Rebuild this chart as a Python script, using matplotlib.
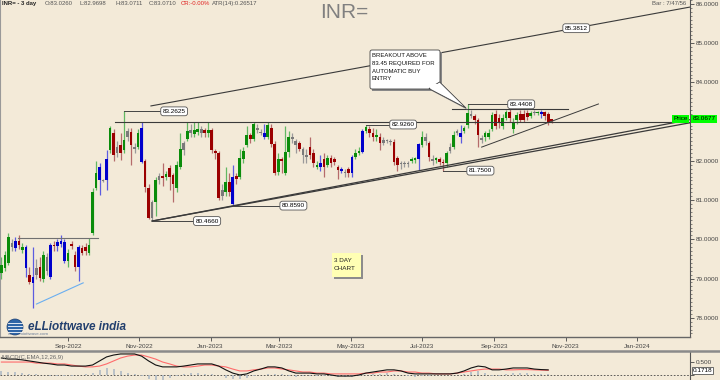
import matplotlib
matplotlib.use('Agg')
import matplotlib.pyplot as plt
import matplotlib.dates as mdates
import matplotlib.patches as mpatches
from matplotlib.ticker import MultipleLocator, FuncFormatter
from datetime import datetime, timedelta

plt.rcParams['font.family'] = ['Liberation Sans', 'DejaVu Sans']

# ---------------- data ----------------
start = datetime(2022, 7, 6)
n_bars = 158
dates = [start + timedelta(days=3 * i) for i in range(n_bars)]

opens = [79.15, 79.27, 79.40, 79.90, 79.78, 79.95, 79.72, 79.80, 79.10, 78.88,
         79.10, 79.30, 78.98, 79.55, 79.05, 79.86, 79.82, 79.88, 79.92, 79.45,
         79.88, 79.60, 79.30, 79.78, 79.80, 79.66, 80.16, 81.30, 81.85, 81.52,
         81.50, 82.28, 82.71, 82.20, 82.41, 82.28, 82.60, 82.74, 82.30, 82.35,
         82.85, 82.00, 81.30, 80.55, 80.95, 81.50, 81.62, 81.60, 81.82, 81.64,
         81.30, 81.85, 82.28, 82.55, 82.72, 82.68, 82.74, 82.80, 82.79, 82.72,
         82.79, 82.25, 82.20, 81.10, 81.20, 81.45, 80.90, 81.62, 81.60, 82.05,
         82.40, 82.66, 82.56, 82.78, 82.72, 82.60, 82.62, 82.85, 82.42, 81.72,
         82.05, 81.70, 82.23, 82.60, 82.50, 82.45, 82.30, 82.15, 82.35, 82.20,
         81.85, 81.85, 82.05, 81.90, 82.07, 82.05, 81.85, 81.75, 81.72, 81.80,
         81.68, 82.10, 82.20, 82.22, 82.75, 82.80, 82.70, 82.60, 82.62, 82.45,
         82.50, 82.50, 82.48, 82.08, 81.92, 81.95, 81.92, 82.00, 82.02, 82.05,
         82.40, 82.60, 82.45, 82.05, 82.02, 82.05, 81.98, 81.95, 82.25, 82.35,
         82.70, 82.62, 82.75, 82.92, 83.20, 83.15, 83.05, 82.58, 82.60, 82.62,
         82.80, 83.20, 83.10, 82.88, 83.10, 83.25, 82.82, 83.05, 83.20, 83.20,
         83.22, 83.15, 83.23, 83.22, 83.25, 83.25, 83.20, 83.026]
highs = [79.55, 79.70, 80.15, 80.00, 80.05, 80.10, 79.90, 79.85, 79.30, 79.80,
         79.50, 79.55, 79.70, 79.65, 79.90, 79.95, 80.00, 80.10, 80.00, 79.75,
         79.95, 79.70, 79.85, 79.85, 79.90, 80.04, 81.30, 82.00, 81.95, 81.55,
         82.28, 82.90, 82.80, 82.50, 82.70, 83.2625, 82.85, 82.85, 82.45, 82.80,
         82.99, 82.05, 81.40, 81.00, 81.60, 81.70, 81.95, 81.75, 81.90, 81.70,
         82.00, 82.70, 82.50, 83.00, 82.95, 83.00, 83.00, 82.90, 82.85, 83.00,
         82.85, 82.30, 82.25, 81.40, 81.85, 81.70, 81.90, 81.70, 82.30, 82.35,
         82.90, 82.70, 83.00, 82.95, 82.80, 82.95, 83.00, 82.95, 82.50, 82.20,
         82.10, 82.90, 82.75, 82.70, 82.55, 82.50, 82.35, 82.30, 82.60, 82.30,
         82.00, 82.15, 82.20, 82.15, 82.15, 82.10, 81.90, 81.85, 81.80, 81.85,
         82.15, 82.30, 82.35, 82.80, 82.926, 82.90, 82.85, 82.80, 82.70, 82.60,
         82.55, 82.55, 82.55, 82.12, 82.00, 82.00, 82.00, 82.10, 82.10, 82.45,
         82.75, 82.70, 82.50, 82.15, 82.10, 82.10, 82.05, 82.25, 82.45, 82.75,
         82.80, 82.92, 82.90, 83.4408, 83.30, 83.20, 83.10, 82.65, 82.75, 82.80,
         83.25, 83.30, 83.20, 83.20, 83.30, 83.32, 83.10, 83.25, 83.30, 83.30,
         83.30, 83.28, 83.30, 83.28, 83.30, 83.28, 83.25, 83.0711]
lows = [79.00, 79.20, 79.35, 79.70, 79.70, 79.75, 79.65, 79.05, 78.85, 78.25,
        79.00, 78.95, 78.90, 79.10, 79.00, 79.70, 79.70, 79.80, 79.40, 79.30,
        79.75, 79.20, 78.93, 79.60, 79.60, 79.60, 80.10, 81.26, 81.13, 81.45,
        81.26, 82.20, 82.00, 82.10, 82.02, 82.20, 82.50, 81.90, 82.20, 82.30,
        81.95, 81.20, 80.52, 80.466, 80.60, 81.40, 81.35, 81.50, 81.25, 80.95,
        81.20, 81.80, 82.15, 82.50, 82.60, 82.60, 82.65, 82.60, 82.60, 82.60,
        82.20, 82.05, 81.00, 81.00, 81.10, 81.10, 80.859, 81.40, 81.55, 81.95,
        82.35, 82.45, 82.50, 82.70, 82.65, 82.55, 82.55, 82.35, 81.65, 81.65,
        81.70, 81.65, 82.10, 82.45, 82.20, 82.25, 81.95, 81.95, 82.05, 81.85,
        81.80, 81.75, 81.60, 81.85, 81.85, 81.90, 81.55, 81.70, 81.60, 81.60,
        81.60, 82.05, 82.15, 82.20, 82.70, 82.60, 82.50, 82.50, 82.28, 82.40,
        82.45, 82.40, 81.90, 81.75, 81.80, 81.85, 81.85, 81.95, 81.95, 81.77,
        82.35, 82.40, 82.00, 81.90, 81.95, 81.90, 81.75, 81.85, 82.20, 82.30,
        82.65, 82.45, 82.70, 82.85, 83.10, 82.95, 82.35, 82.45, 82.50, 82.55,
        82.75, 82.80, 82.85, 82.80, 83.05, 83.00, 82.70, 82.95, 83.00, 83.00,
        83.05, 83.10, 83.18, 83.18, 83.10, 83.05, 82.92, 82.9698]
closes = [79.35, 79.60, 80.06, 79.80, 79.95, 79.85, 79.80, 79.27, 78.90, 79.05,
          79.27, 79.02, 79.60, 79.20, 79.86, 79.82, 79.93, 79.95, 79.45, 79.65,
          79.83, 79.30, 79.80, 79.66, 79.70, 79.86, 81.21, 81.69, 81.50, 81.48,
          82.05, 82.84, 82.15, 82.35, 82.20, 82.53, 82.75, 82.41, 82.35, 82.71,
          81.97, 81.34, 80.55, 80.95, 81.51, 81.62, 81.57, 81.66, 81.60, 81.40,
          81.90, 82.30, 82.45, 82.75, 82.78, 82.79, 82.80, 82.72, 82.72, 82.79,
          82.28, 82.20, 81.05, 81.25, 81.45, 81.20, 81.59, 81.55, 82.07, 82.25,
          82.66, 82.55, 82.94, 82.85, 82.70, 82.72, 82.92, 82.42, 81.70, 82.05,
          82.00, 82.23, 82.61, 82.55, 82.40, 82.30, 82.15, 82.10, 82.15, 81.95,
          81.90, 81.95, 81.85, 82.07, 81.95, 81.97, 81.77, 81.80, 81.70, 81.68,
          82.10, 82.20, 82.25, 82.75, 82.87, 82.72, 82.60, 82.66, 82.45, 82.52,
          82.50, 82.48, 81.98, 81.90, 81.95, 81.92, 81.95, 82.05, 82.07, 82.42,
          82.62, 82.50, 82.10, 82.00, 82.06, 81.96, 81.95, 82.20, 82.35, 82.66,
          82.75, 82.72, 82.85, 83.22, 83.15, 83.05, 82.66, 82.53, 82.70, 82.72,
          83.17, 82.88, 82.97, 83.10, 83.25, 83.10, 82.97, 83.17, 83.05, 83.05,
          83.12, 83.22, 83.25, 83.25, 83.20, 83.15, 82.98, 83.071]
bar_codes = ("gggkbrgbrb" "krgkbrbbbg" "rrbrrgggbk" "bgrkrgkrkg" "brrkgkrgrr"
             "ggkgkggkrg" "rrrkgrbrgg" "grgkkbgrrg" "rggkkrkkrr" "gbrgrrrbkr"
             "bggbgrrgrk" "kkrrkkkggb" "gkrkgrrgkg" "kbggkrrkgg" "grrggrggrr"
             "rgkgbrrr")

# MACD(12,26,9) read every second bar
macd_line = [0.63, 0.59, 0.59, 0.56, 0.52, 0.48, 0.44, 0.41, 0.37, 0.37,
             0.33, 0.33, 0.33, 0.37, 0.52, 0.67, 0.74, 0.78, 0.78, 0.78,
             0.70, 0.52, 0.37, 0.30, 0.30, 0.30, 0.33, 0.37, 0.41, 0.41,
             0.41, 0.33, 0.19, 0.07, 0.00, 0.04, 0.15, 0.22, 0.30, 0.30,
             0.26, 0.15, 0.07, 0.07, 0.07, 0.04, 0.04, 0.00, -0.04, -0.04,
             -0.04, 0.00, 0.07, 0.11, 0.15, 0.19, 0.19, 0.15, 0.07, 0.04,
             0.04, 0.04, 0.04, 0.04, 0.04, 0.07, 0.15, 0.26, 0.33, 0.30,
             0.19, 0.19, 0.22, 0.26, 0.26, 0.26, 0.22, 0.20, 0.19]
signal_line = [0.48, 0.48, 0.48, 0.48, 0.48, 0.44, 0.44, 0.44, 0.41, 0.41,
               0.37, 0.33, 0.30, 0.30, 0.33, 0.41, 0.52, 0.63, 0.70, 0.74,
               0.74, 0.67, 0.59, 0.48, 0.41, 0.33, 0.30, 0.30, 0.33, 0.37,
               0.37, 0.33, 0.30, 0.22, 0.15, 0.15, 0.19, 0.22, 0.26, 0.26,
               0.22, 0.19, 0.15, 0.11, 0.11, 0.07, 0.07, 0.04, 0.04, 0.04,
               0.04, 0.04, 0.07, 0.07, 0.11, 0.11, 0.15, 0.15, 0.11, 0.11,
               0.07, 0.07, 0.04, 0.04, 0.04, 0.07, 0.11, 0.15, 0.19, 0.22,
               0.22, 0.22, 0.19, 0.19, 0.20, 0.20, 0.19, 0.18, 0.17]
macd_dates = dates[::2]

last_price = 83.0677
macd_last = 0.1718

# ---------------- style ----------------
BG = '#f3ead8'
body_col = {'g': '#0a8c0a', 'r': '#9b0000', 'b': '#0000cc', 'k': '#7a7a7a'}
wick_col = {'g': '#62b862', 'r': '#b56b6b', 'b': '#5c5ce0', 'k': '#9a9a9a'}
FS = 4.6

fig = plt.figure(figsize=(7.2, 3.8), dpi=100, facecolor=BG)
ax = fig.add_axes([0, 1 - 337 / 380, 690 / 720, 337 / 380], facecolor=BG)

x0 = mdates.date2num(datetime(2022, 9, 1))
ppd = 1.1684
xl, xr = x0 - 68 / ppd, x0 + (690 - 68) / ppd
ax.set_xlim(xl, xr)
ax.set_ylim(77.51, 86.10)

# candles
dn = mdates.date2num(dates)
for i in range(n_bars):
    c = bar_codes[i]
    ax.vlines(dn[i], lows[i], highs[i], color=wick_col[c], lw=0.9, zorder=2)
    lo = min(opens[i], closes[i])
    h = max(abs(closes[i] - opens[i]), 0.025)
    ax.bar(dn[i], h, bottom=lo, width=2.3, color=body_col[c], lw=0, zorder=3)

LC = '#3a3a3a'
def dnum(d):
    return mdates.date2num(d)

# trendlines / horizontal lines
ax.plot([dnum(datetime(2022, 11, 11)), xr], [83.40, 85.92], color=LC, lw=0.8, zorder=4)
ax.plot([dn[43], xr], [80.466, 82.97], color=LC, lw=0.9, zorder=4)
ax.plot([dn[43], xr], [80.466, 83.05], color=LC, lw=0.9, zorder=4)
ax.plot([dnum(datetime(2022, 10, 11)), xr], [83.0, 83.0], color=LC, lw=0.8, zorder=4)
ax.plot([dnum(datetime(2023, 7, 27)), dnum(datetime(2023, 11, 3))], [83.33, 83.33],
        color=LC, lw=0.8, zorder=4)
ax.plot([dnum(datetime(2023, 8, 21)), dnum(datetime(2023, 11, 29))], [82.35, 83.45],
        color=LC, lw=0.7, zorder=4)
ax.plot([dnum(datetime(2022, 7, 20)), dnum(datetime(2022, 9, 27))], [80.04, 80.04],
        color='#707070', lw=0.8, zorder=4)
ax.plot([dnum(datetime(2022, 8, 5)), dnum(datetime(2022, 9, 14))], [78.35, 78.89],
        color='#6aaef0', lw=0.8, zorder=4)

# value labels
bbox_lbl = dict(boxstyle='round,pad=0.3,rounding_size=0.4', fc='white', ec='#555555', lw=0.6)
labels = [
    (dn[35], 83.2625, datetime(2022, 11, 21), '83.2625'),
    (dn[43], 80.466, datetime(2022, 12, 19), '80.4660'),
    (dn[66], 80.859, datetime(2023, 3, 3), '80.8590'),
    (dn[104], 82.926, datetime(2023, 6, 5), '82.9260'),
    (dn[126], 81.75, datetime(2023, 8, 10), '81.7500'),
    (dn[133], 83.4408, datetime(2023, 9, 14), '83.4408'),
]
for xa, ya, dt, txt in labels:
    ax.plot([xa, dnum(dt)], [ya, ya], color='#444444', lw=0.7, zorder=4)
    ax.text(dnum(dt), ya, txt, fontsize=FS, ha='left', va='center', bbox=bbox_lbl, zorder=6)
ax.text(dnum(datetime(2023, 11, 10)), 85.3812, '85.3812', fontsize=FS, ha='center',
        va='center', bbox=bbox_lbl, zorder=6)

# price tag
ax.text(688 / 690, last_price, 'Price', transform=ax.get_yaxis_transform(), fontsize=FS,
        ha='right', va='center', clip_on=False, zorder=7,
        bbox=dict(boxstyle='square,pad=0.2', fc='#00ff00', ec='none'))
ax.text(1.004, last_price, f'{last_price:.4f}', transform=ax.get_yaxis_transform(),
        fontsize=FS, ha='left', va='center', clip_on=False, zorder=7,
        bbox=dict(boxstyle='square,pad=0.2', fc='#00ff00', ec='none'))

# axes formatting (the 83 label sits under the price tag)
ax.yaxis.tick_right()
ax.yaxis.set_major_locator(MultipleLocator(1.0))
ax.yaxis.set_minor_locator(MultipleLocator(0.1))
ax.yaxis.set_major_formatter(FuncFormatter(
    lambda v, p: '' if abs(v - 83) < 1e-6 else f'{v:.4f}'))
ax.tick_params(axis='y', which='major', length=3, width=0.6, colors='#444444',
               labelsize=FS, pad=1)
ax.tick_params(axis='y', which='minor', length=1.5, width=0.5, colors='#555555')
month_ticks = [datetime(2022, 9, 1), datetime(2022, 11, 1), datetime(2023, 1, 1),
               datetime(2023, 3, 1), datetime(2023, 5, 1), datetime(2023, 7, 1),
               datetime(2023, 9, 1), datetime(2023, 11, 1), datetime(2024, 1, 1)]
ax.set_xticks(mdates.date2num(month_ticks))
ax.set_xticklabels([d.strftime('%b-%Y') for d in month_ticks])
ax.tick_params(axis='x', length=3, width=0.6, colors='#444444', labelsize=FS, pad=2)
ax.spines['top'].set_visible(False)
ax.spines['left'].set_color('#999999')
ax.spines['left'].set_linewidth(0.8)
ax.spines['right'].set_color('#555555')
ax.spines['right'].set_linewidth(0.8)
ax.spines['bottom'].set_color('#666666')
ax.spines['bottom'].set_linewidth(1.0)

# ---------------- MACD panel ----------------
am = fig.add_axes([0, -0.03, 690 / 720, (380 - 351) / 380 + 0.03], facecolor=BG)
am.set_xlim(xl, xr)
am.set_ylim(-0.61, 0.89)
mdn = mdates.date2num(macd_dates)
hist = [m - s for m, s in zip(macd_line, signal_line)]
am.vlines(mdn, 0, hist, color='#a9b6c4', lw=1.1, zorder=2)
am.axhline(0, color='#444444', lw=0.6, ls=(0, (2, 2)), zorder=1)
am.plot(mdn, signal_line, color='#ff6b6b', lw=0.8, zorder=3)
am.plot(mdn, macd_line, color='#111111', lw=0.8, zorder=4)
am.yaxis.tick_right()
am.set_yticks([0.0, 0.5])
am.set_yticklabels(['', '0.500'])
am.tick_params(axis='y', length=3, width=0.6, colors='#444444', labelsize=FS, pad=1)
am.set_xticks([])
for s in ['top', 'left', 'bottom']:
    am.spines[s].set_visible(False)
am.spines['right'].set_color('#555555')
am.spines['right'].set_linewidth(0.8)
am.text(1.004, macd_last, f'{macd_last:.4f}', transform=am.get_yaxis_transform(),
        fontsize=FS, ha='left', va='center', clip_on=False, zorder=7,
        bbox=dict(boxstyle='square,pad=0.15', fc='white', ec='#555555', lw=0.6))

# ---------------- overlay (texts, callouts, logo) ----------------
ov = fig.add_axes([0, 0, 1, 1])
ov.set_xlim(0, 720)
ov.set_ylim(380, 0)
ov.axis('off')
ov.patch.set_alpha(0)

ov.plot([0, 720], [350.5, 350.5], color='#8a8a8a', lw=1.8)

# header
HFS = 4.3
ov.text(2, 3.5, 'INR= - 3 day', fontsize=HFS, fontweight='bold', va='center', color='#222222')
hdr = [(45, 'O:83.0260', '#555555'), (80, 'L:82.9698', '#555555'),
       (115, 'H:83.0711', '#555555'), (149, 'C:83.0710', '#555555'),
       (181, 'CR:-0.00%', '#e02020'), (212, 'ATR(14):0.26517', '#555555')]
for xh, t, cl in hdr:
    ov.text(xh, 3.5, t, fontsize=HFS, va='center', color=cl)
ov.text(652, 3.5, 'Bar : 7/47/56', fontsize=HFS, va='center', color='#555555')
ov.text(320, 12, 'INR=', fontsize=15, va='center', ha='left', color='#808080')

# callout
ov.add_patch(mpatches.Polygon([(432, 91), (442, 84), (468, 110)], closed=True,
                              fc='#888888', ec='none', zorder=1))
ov.add_patch(mpatches.Rectangle((372, 52), 70, 39, fc='#888888', ec='none', zorder=1))
ov.add_patch(mpatches.FancyBboxPatch((370, 50), 70, 39, boxstyle='round,pad=0,rounding_size=2',
                                     fc='white', ec='#444444', lw=0.6, zorder=2))
ov.add_patch(mpatches.Polygon([(429, 88.6), (439.6, 82), (466, 108)], closed=True,
                              fc='white', ec='#444444', lw=0.6, zorder=3))
ov.add_patch(mpatches.Rectangle((429.6, 84), 9.5, 4.4, fc='white', ec='none', zorder=4))
for yy, t in [(55.7, 'BREAKOUT ABOVE'), (64, '83.45 REQUIRED FOR'),
              (71.7, 'AUTOMATIC BUY'), (79, 'ENTRY')]:
    ov.text(372, yy, t, fontsize=4.3, va='center', color='#111111', zorder=5)

# 3 day chart note
ov.add_patch(mpatches.Rectangle((334, 255), 29, 24, fc='#8c8c8c', ec='none', zorder=1))
ov.add_patch(mpatches.Rectangle((332, 253), 29, 24, fc='#ffffb4', ec='none', zorder=2))
ov.text(334, 260, '3 DAY', fontsize=FS, va='center', color='#222222', zorder=3)
ov.text(334, 268.5, 'CHART', fontsize=FS, va='center', color='#222222', zorder=3)

# logo
ov.text(8, 334, 'www.elliottwave.com', fontsize=3.2, va='center', color='#6d7f99', zorder=1)
ov.add_patch(mpatches.Circle((15, 327), 8, fc='#2f66a8', ec='#1d3f70', lw=0.5, zorder=2))
for yy in [322.5, 325.5, 328.5, 331.5]:
    ov.plot([8, 22], [yy, yy], color='white', lw=0.6, zorder=3)
ov.text(28, 327, 'eLLiottwave india', fontsize=8.5, fontweight='bold', fontstyle='italic',
        va='center', color='#23406e', zorder=3)

# MACD caption
ov.text(2, 357, 'MACD(C,EMA,12,26,9)', fontsize=4.3, va='center', color='#666666')

fig.savefig('out.png', dpi=100, facecolor=BG)
